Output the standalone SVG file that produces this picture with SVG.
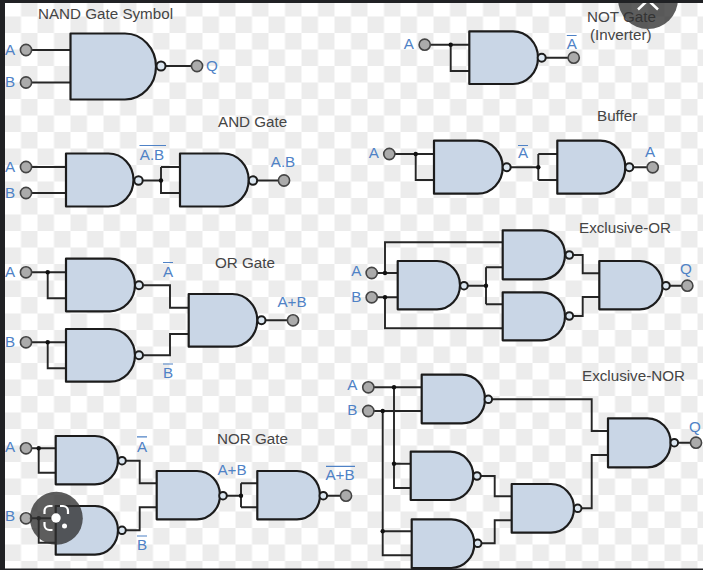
<svg xmlns="http://www.w3.org/2000/svg" width="703" height="570" viewBox="0 0 703 570">
<style>
text{font-family:"Liberation Sans",Arial,sans-serif;font-size:15.2px}
.t{fill:#454545}
.l{fill:#4f82c6;text-anchor:middle}
.b{fill:#c9d6e6;stroke:#1c1c1c;stroke-width:2.200;stroke-linejoin:round}
.bub{fill:#dce7f1;stroke:#1c1c1c;stroke-width:2}
.term{fill:#ababab;stroke:#444;stroke-width:1.600}
.w{fill:none;stroke:#262626;stroke-width:1.900}
.dot{fill:#111}
.o{stroke:#4f82c6;stroke-width:1.200}
</style>
<defs>
<pattern id="chk" patternUnits="userSpaceOnUse" x="4.500" y="0" width="33" height="33">
<rect width="33" height="33" fill="#fff"/>
<rect x="16.500" width="16.500" height="16.500" fill="#ececec"/>
<rect y="16.500" width="16.500" height="16.500" fill="#ececec"/>
</pattern>
</defs>
<rect id="background" width="703" height="570" fill="url(#chk)"/>

<g id="connectors" class="w">
<path d="M31 50H70M31 82.500H70M166 66H191"/>
<path d="M31 167H66M31 193H66M143 180.500H161M161 167H180M161 167V193H180M258 180.500H278"/>
<path d="M430 44.700H469M450.700 44.700V71H469M546 57.700H568"/>
<path d="M395 154H434M415.700 154V180H434M511 167.300H538.300M538.300 154V180M538.300 154H557M538.300 180H557M634 167.300H647"/>
<path d="M31 272.300H66M47.700 272.300V298.300H66M31 342.300H66M47.700 342.300V368.300H66M143.500 285.300H170V307.700H188.700M143.500 355.300H170V334H188.700M266 320.300H287"/>
<path d="M377 273H397.700M377 297.300H397.700M385 273V242.300H502.700M385 297.300V328.300H502.700M468 285.700H486M486 267.300V304.300M486 267.300H502.700M486 304.300H502.700M573.500 255H582.700V273.300H599.300M573.500 316H582.700V297H599.300M670 285.700H682"/>
<path d="M31 448.300H55.700M38.700 448.300V472.700H55.700M31 518.300H55.700M38.700 518.300V542.700H55.700M126 460.700H139.700V483.300H156.700M126 530.300H139.700V507.300H156.700M227 495.700H241M241 483.300V507.300M241 483.300H257.300M241 507.300H257.300M327 495.700H341"/>
<path d="M373 387.300H421.700M373 411H421.700M394 387.300V488H410.700M394 463.700H410.700M382.700 411V555.300H411.700M382.700 531.300H411.700M492.500 399.300H591.700V431H608M581.500 508.300H591.700V455H608M481 476H494.700V496.300H511.700M481.500 543.300H494.700V520.300H511.700M678.500 442.700H691"/>
</g>
<g id="junctions" class="dot">
<circle cx="161" cy="180.500" r="2.200"/>
<circle cx="450.700" cy="44.700" r="2.200"/>
<circle cx="415.700" cy="154" r="2.200"/>
<circle cx="538.300" cy="167.300" r="2.200"/>
<circle cx="47.700" cy="272.300" r="2.200"/>
<circle cx="47.700" cy="342.300" r="2.200"/>
<circle cx="385" cy="273" r="2.200"/>
<circle cx="385" cy="297.300" r="2.200"/>
<circle cx="486" cy="285.700" r="2.200"/>
<circle cx="38.700" cy="448.300" r="2.200"/>
<circle cx="38.700" cy="518.300" r="2.200"/>
<circle cx="241" cy="495.700" r="2.200"/>
<circle cx="394" cy="387.300" r="2.200"/>
<circle cx="382.700" cy="411" r="2.200"/>
<circle cx="394" cy="463.700" r="2.200"/>
<circle cx="382.700" cy="531.300" r="2.200"/>
</g>

<g id="gate-nand"><path class="b" d="M70.500 33.500H125A31 33 0 0 1 125 99.500H70.500Z"/><circle class="bub" cx="161" cy="66" r="4.500"/></g>
<g id="gate-and-1"><path class="b" d="M66 153.500H108.500A25 26.500 0 0 1 108.500 206.500H66Z"/><circle class="bub" cx="138.500" cy="180.500" r="4.200"/></g>
<g id="gate-and-2"><path class="b" d="M180 153.500H223.700A25 26.500 0 0 1 223.700 206.500H180Z"/><circle class="bub" cx="253" cy="180.500" r="4.200"/></g>
<g id="gate-not"><path class="b" d="M469.300 31.300H513A25 26.350 0 0 1 513 84H469.300Z"/><circle class="bub" cx="541.700" cy="57.700" r="4"/></g>
<g id="gate-buffer-1"><path class="b" d="M434 140.700H477.700A25 26.500 0 0 1 477.700 193.700H434Z"/><circle class="bub" cx="506.700" cy="167.300" r="4"/></g>
<g id="gate-buffer-2"><path class="b" d="M557.300 140.700H600.300A25 26.500 0 0 1 600.300 193.700H557.300Z"/><circle class="bub" cx="629.300" cy="167.300" r="4"/></g>
<g id="gate-or-1"><path class="b" d="M66 258.700H110A25 26.300 0 0 1 110 311.300H66Z"/><circle class="bub" cx="139" cy="285.300" r="4"/></g>
<g id="gate-or-2"><path class="b" d="M66 329H110A25 26.350 0 0 1 110 381.700H66Z"/><circle class="bub" cx="139" cy="355.300" r="4"/></g>
<g id="gate-or-3"><path class="b" d="M188.700 294H232.300A25 26.350 0 0 1 232.300 346.700H188.700Z"/><circle class="bub" cx="261.500" cy="320.300" r="4"/></g>
<g id="gate-xor-1"><path class="b" d="M397.700 261H437A23 24.150 0 0 1 437 309.300H397.700Z"/><circle class="bub" cx="464" cy="285.700" r="3.800"/></g>
<g id="gate-xor-2"><path class="b" d="M502.700 230.300H542A23 24.500 0 0 1 542 279.300H502.700Z"/><circle class="bub" cx="569.300" cy="255" r="3.800"/></g>
<g id="gate-xor-3"><path class="b" d="M502.700 292.300H542A23 24 0 0 1 542 340.300H502.700Z"/><circle class="bub" cx="569.300" cy="316" r="3.800"/></g>
<g id="gate-xor-4"><path class="b" d="M599.300 261H639.700A23 24.150 0 0 1 639.700 309.300H599.300Z"/><circle class="bub" cx="666" cy="285.700" r="3.800"/></g>
<g id="gate-nor-1"><path class="b" d="M55.700 436H95A23 24.150 0 0 1 95 484.300H55.700Z"/><circle class="bub" cx="122" cy="460.700" r="3.800"/></g>
<g id="gate-nor-2"><path class="b" d="M55.700 506H95A23 24.350 0 0 1 95 554.700H55.700Z"/><circle class="bub" cx="122" cy="530.300" r="3.800"/></g>
<g id="gate-nor-3"><path class="b" d="M156.700 471H197A23 24.150 0 0 1 197 519.300H156.700Z"/><circle class="bub" cx="223" cy="495.700" r="3.800"/></g>
<g id="gate-nor-4"><path class="b" d="M257.300 471H297A23 24.150 0 0 1 297 519.300H257.300Z"/><circle class="bub" cx="323.300" cy="495.700" r="3.800"/></g>
<g id="gate-xnor-1"><path class="b" d="M421.700 374.700H462A23 24.300 0 0 1 462 423.300H421.700Z"/><circle class="bub" cx="488.300" cy="399.300" r="3.800"/></g>
<g id="gate-xnor-2"><path class="b" d="M410.700 451.700H450.300A23 24.150 0 0 1 450.300 500H410.700Z"/><circle class="bub" cx="477" cy="476" r="3.800"/></g>
<g id="gate-xnor-3"><path class="b" d="M411.700 519.300H451.300A23 24.350 0 0 1 451.300 568H411.700Z"/><circle class="bub" cx="477.700" cy="543.300" r="3.800"/></g>
<g id="gate-xnor-4"><path class="b" d="M511.700 484H551A23 24.350 0 0 1 551 532.700H511.700Z"/><circle class="bub" cx="577.700" cy="508.300" r="3.800"/></g>
<g id="gate-xnor-5"><path class="b" d="M608 418.300H647.700A23 24.500 0 0 1 647.700 467.300H608Z"/><circle class="bub" cx="674.300" cy="442.700" r="3.800"/></g>

<g id="terminals" class="term">
<circle cx="26" cy="50" r="5.600"/><circle cx="26" cy="82.500" r="5.600"/><circle cx="197" cy="66" r="5.600"/>
<circle cx="26" cy="167" r="5.600"/><circle cx="26" cy="193" r="5.600"/><circle cx="284" cy="180.500" r="5.600"/>
<circle cx="424.700" cy="44.700" r="5.600"/><circle cx="573.700" cy="57.700" r="5.600"/>
<circle cx="389.300" cy="154" r="5.600"/><circle cx="652.700" cy="167.300" r="5.600"/>
<circle cx="26" cy="272.300" r="5.600"/><circle cx="26" cy="342.300" r="5.600"/><circle cx="293" cy="320.300" r="5.600"/>
<circle cx="371.700" cy="273" r="5.600"/><circle cx="371.700" cy="297.300" r="5.600"/><circle cx="687.300" cy="285.700" r="5.600"/>
<circle cx="26" cy="448.300" r="5.600"/><circle cx="26" cy="518.300" r="5.600"/><circle cx="346" cy="495.700" r="5.600"/>
<circle cx="368.300" cy="387.300" r="5.600"/><circle cx="368.300" cy="411" r="5.600"/><circle cx="696" cy="442.700" r="5.600"/>
</g>

<g id="titles" class="t">
<text x="38" y="19">NAND Gate Symbol</text>
<text x="218" y="127">AND Gate</text>
<text x="587" y="22">NOT Gate</text>
<text x="590" y="40">(Inverter)</text>
<text x="597" y="121">Buffer</text>
<text x="215" y="267.700">OR Gate</text>
<text x="579" y="232.700">Exclusive-OR</text>
<text x="217" y="444.300">NOR Gate</text>
<text x="582" y="380.700">Exclusive-NOR</text>
</g>

<g id="labels" class="l">
<text x="10" y="54.500">A</text><text x="10" y="87">B</text><text x="212" y="71">Q</text>
<text x="10" y="172">A</text><text x="10" y="198">B</text><text x="152" y="160">A.B</text><text x="283" y="167">A.B</text>
<text x="408.700" y="49">A</text><text x="571.700" y="49.300">A</text>
<text x="373.700" y="158">A</text><text x="523" y="158">A</text><text x="650" y="157">A</text>
<text x="10" y="277">A</text><text x="10" y="346.500">B</text><text x="168" y="277">A</text><text x="168" y="378">B</text><text x="292" y="307">A+B</text>
<text x="356.300" y="276">A</text><text x="356.300" y="302">B</text><text x="686" y="274">Q</text>
<text x="10" y="452">A</text><text x="10" y="521">B</text><text x="142" y="452">A</text><text x="142" y="550">B</text><text x="232" y="475">A+B</text><text x="340" y="480">A+B</text>
<text x="352.300" y="390">A</text><text x="352.300" y="415.300">B</text><text x="695" y="431.700">Q</text>
</g>
<g id="overbars" class="o">
<path d="M139.500 145.500H166M566.800 35.500H576.600M518 145.500H528M163 262.500H173M163 364H173M137 436.800H147M137 536H147M326 466.300H355"/>
</g>

<g id="window-chrome">
<rect width="703" height="3" fill="#202124"/>
<rect width="5" height="570" fill="#202124"/>
<rect y="568.500" width="703" height="1.500" fill="#202124"/>
</g>
<g id="close-button">
<circle cx="648" cy="-1" r="30" fill="#303030" fill-opacity=".78"/>
<path d="M638 9.500L648 0L658 9.500" fill="none" stroke="#fff" stroke-width="2.500"/>
<rect width="703" height="3" fill="#202124"/>
</g>
<g id="lens-button">
<circle cx="56.300" cy="518.300" r="26.500" fill="#303030" fill-opacity=".78"/>
<path d="M44.500 514V511A5 5 0 0 1 49.500 506H52.500M60 506H63A5 5 0 0 1 68 511V514M44.500 522V525A5 5 0 0 0 49.500 530H52.500" fill="none" stroke="#fff" stroke-width="2.200"/>
<circle cx="56" cy="518" r="4.700" fill="#fff"/>
<circle cx="64.500" cy="526" r="2.500" fill="#fff"/>
</g>
</svg>
